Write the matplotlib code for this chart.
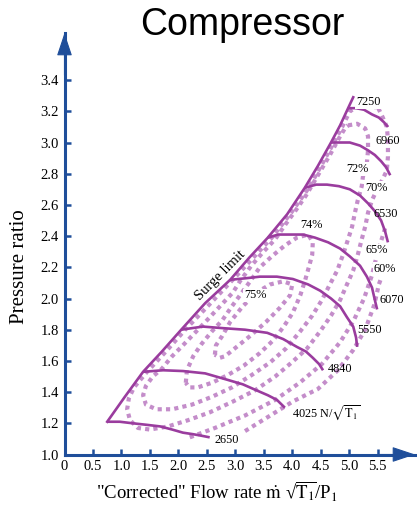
import matplotlib.pyplot as plt
import numpy as np

plt.rcParams['font.family'] = ['Liberation Serif', 'DejaVu Serif']
plt.rcParams['mathtext.fontset'] = 'stix'

BLUE = '#1f4e9a'
PURPLE = '#9a3c9e'
DOTS = '#c48dca'

# surge limit
surge_x = [0.75, 1.06, 1.38, 1.71, 2.05, 2.47, 2.91, 3.24, 3.57, 3.91, 4.22, 4.45, 4.68, 4.84, 4.98, 5.07]
surge_y = [1.21, 1.37, 1.53, 1.66, 1.80, 1.97, 2.12, 2.26, 2.39, 2.54, 2.71, 2.85, 3.00, 3.11, 3.22, 3.29]

# speed lines N/sqrt(T1)
n2650_x = [0.75, 0.97, 1.20, 1.45, 1.68, 1.89, 2.08, 2.26, 2.41, 2.55]
n2650_y = [1.21, 1.21, 1.20, 1.19, 1.18, 1.16, 1.14, 1.13, 1.12, 1.11]
n4025_x = [1.38, 1.73, 2.08, 2.47, 2.85, 3.13, 3.38, 3.57, 3.73, 3.87]
n4025_y = [1.53, 1.54, 1.535, 1.52, 1.48, 1.45, 1.41, 1.38, 1.35, 1.30]
n4840_x = [2.05, 2.43, 2.78, 3.17, 3.56, 3.84, 4.08, 4.24, 4.36, 4.47, 4.54]
n4840_y = [1.80, 1.82, 1.81, 1.80, 1.78, 1.74, 1.69, 1.66, 1.62, 1.58, 1.54]
n5550_x = [2.91, 3.19, 3.43, 3.73, 4.01, 4.28, 4.49, 4.68, 4.84, 4.96, 5.07, 5.12, 5.14]
n5550_y = [2.12, 2.13, 2.14, 2.14, 2.125, 2.09, 2.05, 2.00, 1.95, 1.88, 1.82, 1.75, 1.69]
n6070_x = [3.57, 3.75, 3.96, 4.19, 4.40, 4.63, 4.84, 5.01, 5.19, 5.31, 5.40, 5.45, 5.49]
n6070_y = [2.39, 2.41, 2.41, 2.41, 2.39, 2.36, 2.32, 2.27, 2.21, 2.14, 2.07, 1.99, 1.93]
n6530_x = [4.22, 4.42, 4.61, 4.82, 5.01, 5.19, 5.33, 5.45, 5.56, 5.63, 5.68]
n6530_y = [2.71, 2.73, 2.73, 2.72, 2.70, 2.66, 2.61, 2.56, 2.50, 2.43, 2.36]
n6960_x = [4.68, 4.84, 5.01, 5.19, 5.33, 5.45, 5.56, 5.65, 5.72]
n6960_y = [3.00, 3.00, 3.00, 2.98, 2.95, 2.92, 2.88, 2.84, 2.79]
n7250_x = [4.98, 5.12, 5.26, 5.40, 5.52, 5.61, 5.68]
n7250_y = [3.22, 3.22, 3.21, 3.18, 3.16, 3.13, 3.10]

# efficiency contours
e75_x = [2.64, 2.66, 2.77, 2.91, 3.13, 3.38, 3.61, 3.84, 4.00, 3.96, 3.78, 3.54, 3.26, 2.99, 2.82, 2.73, 2.64]
e75_y = [1.64, 1.70, 1.76, 1.85, 1.95, 2.04, 2.09, 2.11, 2.09, 2.02, 1.94, 1.85, 1.76, 1.68, 1.63, 1.62, 1.64]

e74_x = [2.13, 2.15, 2.26, 2.41, 2.59, 2.77, 2.94, 3.10, 3.26, 3.43, 3.64, 3.87, 4.08, 4.28, 4.36,
         4.35, 4.29, 4.22, 4.14, 4.01, 3.85, 3.66, 3.43, 3.15, 2.87, 2.59, 2.34, 2.19, 2.13]
e74_y = [1.46, 1.54, 1.63, 1.71, 1.79, 1.86, 1.95, 2.03, 2.11, 2.20, 2.27, 2.34, 2.39, 2.41, 2.36,
         2.28, 2.20, 2.11, 2.02, 1.91, 1.82, 1.73, 1.65, 1.57, 1.51, 1.46, 1.43, 1.43, 1.46]

e72_x = [4.98, 5.14, 5.28, 5.33, 5.33, 5.31, 5.24, 5.22, 5.15, 5.10, 5.05, 4.98, 4.89, 4.79, 4.66,
         4.52, 4.35, 4.14, 3.89, 3.61, 3.29, 2.94, 2.59, 2.24, 1.89, 1.61, 1.43, 1.38, 1.43, 1.55,
         1.71, 1.89, 2.08, 2.29, 2.50, 2.73, 2.96, 3.08, 3.28, 3.47, 3.70, 3.89, 4.07, 4.24, 4.45,
         4.66, 4.84, 4.94, 4.98]
e72_y = [3.11, 3.12, 3.09, 3.04, 2.95, 2.87, 2.78, 2.72, 2.63, 2.55, 2.46, 2.38, 2.28, 2.18, 2.09,
         1.99, 1.89, 1.79, 1.68, 1.59, 1.51, 1.43, 1.37, 1.32, 1.29, 1.29, 1.32, 1.38, 1.44, 1.50,
         1.55, 1.63, 1.70, 1.78, 1.86, 1.95, 2.04, 2.11, 2.21, 2.29, 2.38, 2.48, 2.57, 2.66, 2.79,
         2.92, 3.04, 3.10, 3.11]

e70_x = [5.51, 5.59, 5.66, 5.68, 5.68, 5.66, 5.58, 5.49, 5.40, 5.33, 5.28, 5.22, 5.15, 5.07, 4.96,
         4.84, 4.68, 4.49, 4.26, 3.99, 3.70, 3.34, 2.96, 2.55, 2.17, 1.82, 1.50, 1.29, 1.15, 1.10,
         1.13, 1.22, 1.45, 1.78, 2.12, 2.54, 2.98, 3.31, 3.64, 3.98, 4.29, 4.52, 4.73, 4.89, 5.01,
         5.15, 5.33, 5.51]
e70_y = [3.22, 3.16, 3.10, 3.02, 2.91, 2.82, 2.76, 2.70, 2.63, 2.55, 2.46, 2.38, 2.28, 2.18, 2.09,
         1.99, 1.89, 1.79, 1.68, 1.59, 1.50, 1.41, 1.34, 1.27, 1.22, 1.18, 1.16, 1.17, 1.22, 1.29,
         1.36, 1.43, 1.53, 1.66, 1.80, 1.96, 2.13, 2.26, 2.39, 2.55, 2.71, 2.86, 3.00, 3.11, 3.20,
         3.23, 3.24, 3.22]

e65_x = [2.20, 2.64, 3.17, 3.70, 4.13, 4.52, 4.84, 5.08, 5.26, 5.40, 5.50, 5.57, 5.63]
e65_y = [1.11, 1.17, 1.25, 1.35, 1.46, 1.58, 1.72, 1.86, 2.00, 2.15, 2.30, 2.38, 2.45]

e60_x = [3.17, 3.57, 4.01, 4.45, 4.80, 5.07, 5.28, 5.44, 5.52, 5.56]
e60_y = [1.15, 1.24, 1.34, 1.42, 1.54, 1.67, 1.80, 1.96, 2.09, 2.13]

x_ticks = [0, 0.5, 1.0, 1.5, 2.0, 2.5, 3.0, 3.5, 4.0, 4.5, 5.0, 5.5]
x_labels = ['0', '0.5', '1.0', '1.5', '2.0', '2.5', '3.0', '3.5', '4.0', '4.5', '5.0', '5.5']
y_ticks = [1.0, 1.2, 1.4, 1.6, 1.8, 2.0, 2.2, 2.4, 2.6, 2.8, 3.0, 3.2, 3.4]

fig = plt.figure(figsize=(4.17, 5.05), dpi=100)
ax = fig.add_axes([64.5 / 417, 50.5 / 505, 350.5 / 417, 421.5 / 505])
ax.set_xlim(0, 6.155)
ax.set_ylim(1.0, 3.702)

for s in ['top', 'right']:
    ax.spines[s].set_visible(False)
for s in ['left', 'bottom']:
    ax.spines[s].set_color(BLUE)
    ax.spines[s].set_linewidth(2.2)

ax.set_xticks(x_ticks)
ax.set_xticklabels(x_labels)
ax.set_yticks(y_ticks)
ax.set_yticklabels(['%.1f' % v for v in y_ticks])
ax.tick_params(direction='in', length=4.5, width=1.8, color=BLUE, labelsize=10.5, pad=4)

arrow = dict(arrowstyle='-|>,head_length=0.9,head_width=0.3', mutation_scale=16,
             color=BLUE, lw=0.8, shrinkA=0, shrinkB=0)
ax.annotate('', xy=(1.0, 0), xytext=(0.9, 0), xycoords='axes fraction',
            arrowprops=arrow, annotation_clip=False)
ax.annotate('', xy=(0, 1.0), xytext=(0, 0.9), xycoords='axes fraction',
            arrowprops=arrow, annotation_clip=False)

# efficiency islands (dotted)
for ex, ey in [(e75_x, e75_y), (e74_x, e74_y), (e72_x, e72_y), (e70_x, e70_y),
               (e65_x, e65_y), (e60_x, e60_y)]:
    ax.plot(ex, ey, color=DOTS, lw=3, linestyle=(0, (1, 1)), dash_capstyle='butt', zorder=2)

# surge line and speed lines
ax.plot(surge_x, surge_y, color=PURPLE, lw=1.9, zorder=3)
for sx, sy in [(n2650_x, n2650_y), (n4025_x, n4025_y), (n4840_x, n4840_y), (n5550_x, n5550_y),
               (n6070_x, n6070_y), (n6530_x, n6530_y), (n6960_x, n6960_y), (n7250_x, n7250_y)]:
    ax.plot(sx, sy, color=PURPLE, lw=1.9, solid_capstyle='butt', zorder=3)

wbox = dict(boxstyle='square,pad=0.05', fc='white', ec='none')
lab = dict(fontsize=8.8, va='center', ha='left', zorder=5)
ax.text(5.12, 3.26, '7250', bbox=wbox, **lab)
ax.text(5.47, 3.01, '6960', **lab)
ax.text(5.42, 2.54, '6530', **lab)
ax.text(5.54, 1.99, '6070', **lab)
ax.text(5.14, 1.80, '5550', **lab)
ax.text(4.63, 1.55, '4840', **lab)
ax.text(3.99, 1.27, r'4025 N/$\sqrt{\mathrm{T}_1}$', **lab)
ax.text(2.63, 1.09, '2650', **lab)

pct = dict(fontsize=8.8, va='center', ha='center', zorder=5, bbox=wbox)
ax.text(3.35, 2.02, '75%', **pct)
ax.text(4.34, 2.47, '74%', **pct)
ax.text(5.14, 2.83, '72%', **pct)
ax.text(5.47, 2.71, '70%', **pct)
ax.text(5.48, 2.31, '65%', **pct)
ax.text(5.62, 2.19, '60%', **pct)

ax.text(2.73, 2.15, 'Surge limit', rotation=45, rotation_mode='anchor',
        ha='center', va='center', fontsize=10.5, zorder=5)

fig.text(242 / 417, 1 - 35 / 505, 'Compressor', fontsize=27,
         family=['Liberation Sans', 'DejaVu Sans'], ha='center', va='baseline')
fig.text(217 / 417, 1 - 499 / 505,
         r'"Corrected" Flow rate $\dot{\mathrm{m}}$ √$\overline{\mathrm{T}_1}$/P$_1$',
         fontsize=13.5, ha='center', va='baseline')
fig.text(20 / 417, 1 - 267 / 505, 'Pressure ratio', rotation=90, fontsize=15,
         ha='center', va='center')

fig.savefig('out.png', dpi=100)
